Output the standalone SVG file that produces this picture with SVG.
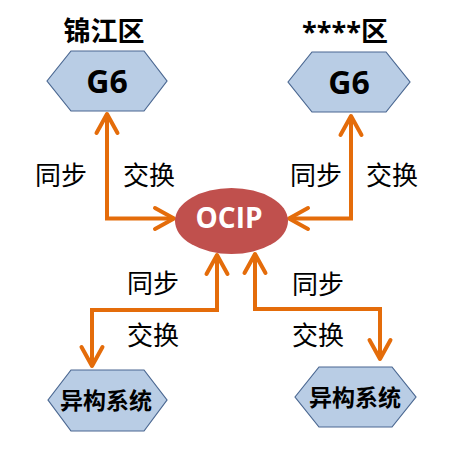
<svg xmlns="http://www.w3.org/2000/svg" width="459" height="449" viewBox="0 0 459 449">
<defs>
<marker id="arr" markerUnits="userSpaceOnUse" markerWidth="30" markerHeight="30" viewBox="-24 -15 30 30" refX="0" refY="0" orient="auto-start-reverse" overflow="visible">
<path d="M-19,-10.5 L0,0 L-19,10.5" fill="none" stroke="#E46C0A" stroke-width="4" stroke-linejoin="round" stroke-linecap="round"/>
</marker>
<style>
.hex{fill:#B9CDE5;stroke:#4A6791;stroke-width:1.2}
.conn{fill:none;stroke:#E46C0A;stroke-width:4;stroke-linejoin:miter;marker-start:url(#arr);marker-end:url(#arr)}
.g6{font-family:"Open Sans","Liberation Sans",sans-serif;font-weight:bold;font-size:32px;fill:#000;text-anchor:middle}
.title{font-family:"Open Sans","Noto Sans CJK SC",sans-serif;font-weight:bold;font-size:27px;fill:#000;text-anchor:middle}
.lbl{font-family:"Noto Sans CJK SC",sans-serif;font-size:26px;fill:#000}
.sys{font-family:"Noto Sans CJK SC",sans-serif;font-weight:bold;font-size:23px;fill:#000;text-anchor:middle}
</style>
</defs>
<rect width="459" height="449" fill="#fff"/>
<g id="connectors">
<path class="conn" d="M107,114 V218.5 H174"/>
<path class="conn" d="M351,116 V218.5 H289"/>
<path class="conn" d="M217,255 V310 H92 V366"/>
<path class="conn" d="M255,254 V309 H380 V359"/>
</g>
<g id="labels">
<text class="lbl" x="35" y="185">同步</text>
<text class="lbl" x="123" y="185">交换</text>
<text class="lbl" x="290" y="185">同步</text>
<text class="lbl" x="366" y="185">交换</text>
<text class="lbl" x="127" y="293">同步</text>
<text class="lbl" x="127" y="345">交换</text>
<text class="lbl" x="292" y="294">同步</text>
<text class="lbl" x="292" y="345">交换</text>
</g>
<g id="title-left"><text class="title" x="104" y="41">锦江区</text></g>
<g id="title-right"><text class="title" x="345" y="41">****区</text></g>
<g id="g6-left">
<polygon class="hex" points="47,81 71,51 144,51 167,81 144,111 71,111"/>
<text class="g6" x="107" y="93">G6</text>
</g>
<g id="g6-right">
<polygon class="hex" points="288,82 312,52 386,52 410,82 386,112 312,112"/>
<text class="g6" x="349" y="94">G6</text>
</g>
<g id="ocip">
<ellipse cx="231.5" cy="221" rx="56.5" ry="33" fill="#C0504D"/>
<text x="229" y="227.5" font-family="Open Sans,Liberation Sans,sans-serif" font-weight="bold" font-size="28" fill="#fff" text-anchor="middle">OCIP</text>
</g>
<g id="sys-left">
<polygon class="hex" points="48,400 71,370 144,370 167,400 144,431 71,431"/>
<text class="sys" x="106" y="409">异构系统</text>
</g>
<g id="sys-right">
<polygon class="hex" points="295,397 319,367 392,367 416,397 392,427 319,427"/>
<text class="sys" x="355" y="406">异构系统</text>
</g>
</svg>
